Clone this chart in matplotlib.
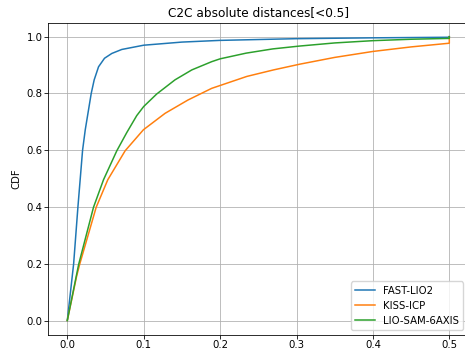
import matplotlib
matplotlib.use("Agg")
import matplotlib.pyplot as plt

# CDF curves (distance in m, cumulative fraction)
fast_x = [0, 0.0083, 0.0139, 0.020, 0.0235, 0.0313, 0.0352, 0.0409, 0.0487, 0.0583,
          0.0713, 0.1, 0.15, 0.2, 0.3, 0.4, 0.5, 0.5]
fast_y = [0, 0.200, 0.400, 0.600, 0.672, 0.800, 0.848, 0.894, 0.924, 0.941,
          0.955, 0.970, 0.981, 0.987, 0.993, 0.996, 0.998, 1.0]

kiss_x = [0, 0.0122, 0.0161, 0.0378, 0.053, 0.0757, 0.0996, 0.128, 0.158, 0.189,
          0.235, 0.27, 0.304, 0.35, 0.4, 0.45, 0.5, 0.5]
kiss_y = [0, 0.156, 0.197, 0.399, 0.496, 0.598, 0.672, 0.730, 0.777, 0.818,
          0.860, 0.883, 0.903, 0.927, 0.948, 0.964, 0.977, 1.0]

lio_x = [0, 0.0148, 0.0343, 0.0474, 0.0648, 0.0778, 0.0909, 0.1, 0.117, 0.141,
         0.163, 0.189, 0.2, 0.234, 0.269, 0.304, 0.35, 0.4, 0.45, 0.5, 0.5]
lio_y = [0, 0.197, 0.399, 0.496, 0.598, 0.662, 0.722, 0.754, 0.798, 0.848,
         0.883, 0.912, 0.922, 0.942, 0.957, 0.967, 0.978, 0.986, 0.991, 0.994, 1.0]

labels = ["FAST-LIO2", "KISS-ICP", "LIO-SAM-6AXIS"]

s = 465 / 640  # picture is a shrunk default figure
plt.rcParams["font.size"] = 10 * s

fig = plt.figure(figsize=(4.65, 3.51), dpi=100)
ax = fig.add_axes([48.2 / 465, 16.3 / 351, 420.2 / 465, 312.2 / 351])

lw = 1.5 * s
ax.plot(fast_x, fast_y, label=labels[0], linewidth=lw)
ax.plot(kiss_x, kiss_y, label=labels[1], linewidth=lw)
ax.plot(lio_x, lio_y, label=labels[2], linewidth=lw)

ax.set_title("C2C absolute distances[<0.5]", fontsize=12 * s, pad=6 * s)
ax.set_ylabel("CDF", fontsize=10 * s)
ax.grid(True, linewidth=0.8 * s)
ax.tick_params(width=0.8 * s, length=3.5 * s, pad=2 * s, labelsize=10 * s)
for sp in ax.spines.values():
    sp.set_linewidth(0.8 * s)
ax.legend(loc="lower right", fontsize=10 * s)

fig.savefig("out.png", dpi=100)
